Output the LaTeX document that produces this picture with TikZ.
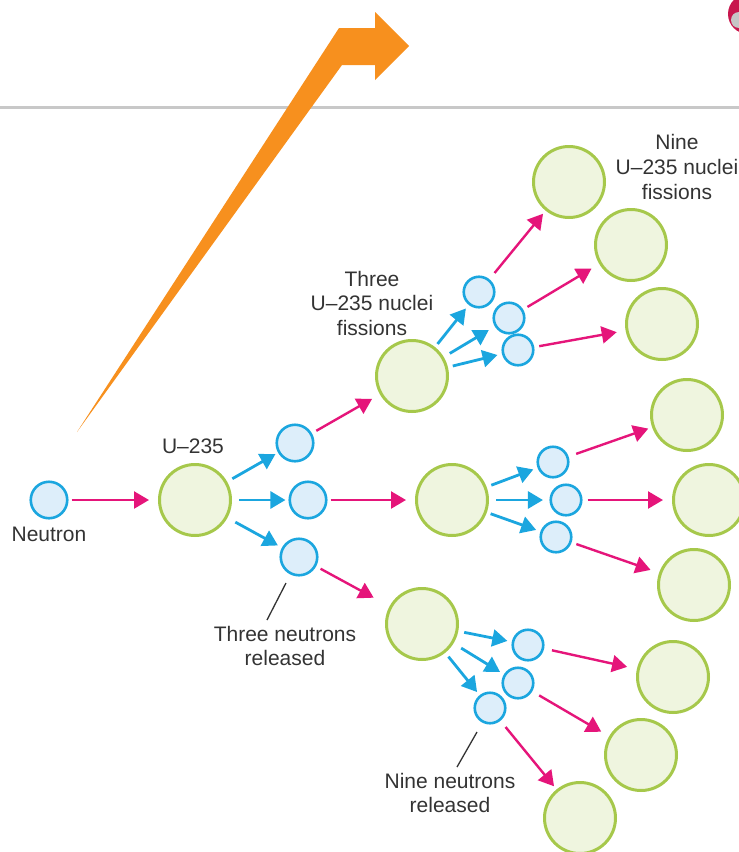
\documentclass[tikz,border=0pt]{standalone}
\usepackage{fontspec}
\setmainfont{Liberation Sans}
\usetikzlibrary{arrows.meta}
\definecolor{pinkc}{HTML}{E5157A}
\definecolor{bluec}{HTML}{1BA6DF}
\definecolor{neuf}{HTML}{DDEEFA}
\definecolor{nucf}{HTML}{EFF5DF}
\definecolor{nucg}{HTML}{A6C84B}
\definecolor{orangec}{HTML}{F7901E}
\definecolor{txtc}{HTML}{333333}
\definecolor{rulec}{HTML}{C8C8C8}
\definecolor{crimc}{HTML}{C8174D}
\tikzset{
  nucleus/.style={circle, draw=nucg, fill=nucf, line width=3pt, minimum size=71pt, inner sep=0pt},
  bigneut/.style={circle, draw=bluec, fill=neuf, line width=2.6pt, minimum size=36.5pt, inner sep=0pt},
  smallneut/.style={circle, draw=bluec, fill=neuf, line width=2.6pt, minimum size=30.5pt, inner sep=0pt},
  parr/.style={draw=pinkc, line width=2.4pt, -{Triangle[length=15pt,width=17pt]}, shorten <=5pt, shorten >=9pt},
  barr/.style={draw=bluec, line width=2.8pt, -{Triangle[length=15pt,width=17pt]}, shorten <=6pt, shorten >=4.5pt},
  lbl/.style={font=\fontsize{21}{24.5}\selectfont, text=txtc, align=center, inner sep=0pt, anchor=base},
  ptr/.style={draw=txtc, line width=1.3pt},
}
\begin{document}
\begin{tikzpicture}[x=1pt,y=-1pt]
\useasboundingbox (0,0) rectangle (739,852);
% top-right clipped fragment
\begin{scope}
\clip (0,0) rectangle (739,852);
\fill[crimc] (748,14) circle (20pt);
\fill[gray!45] (739,20) circle (8pt);
\end{scope}
% rule
\draw[rulec, line width=3pt] (0,107) -- (739,107);
% orange bent arrow
\fill[orangec] (77,432) -- (339,28) -- (375,28) -- (375,12) -- (409,46) -- (375,80) -- (375,65) -- (342,65) -- cycle;

% nodes
\node[bigneut] (n0) at (49,500) {};
\node[nucleus] (u0) at (195,500) {};
\node[bigneut] (t1) at (295,443) {};
\node[bigneut] (t2) at (308,500) {};
\node[bigneut] (t3) at (299,557) {};
\node[nucleus] (g1) at (412,376) {};
\node[nucleus] (g2) at (452,500) {};
\node[nucleus] (g3) at (422,624) {};
\node[smallneut] (a1) at (479,292) {};
\node[smallneut] (a2) at (509,318) {};
\node[smallneut] (a3) at (518,350) {};
\node[smallneut] (b1) at (553,462) {};
\node[smallneut] (b2) at (566,500) {};
\node[smallneut] (b3) at (556,537) {};
\node[smallneut] (c1) at (528,645) {};
\node[smallneut] (c2) at (518,683) {};
\node[smallneut] (c3) at (490,708) {};
\node[nucleus] (N1) at (569,182) {};
\node[nucleus] (N2) at (631,245) {};
\node[nucleus] (N3) at (662,324) {};
\node[nucleus] (N4) at (687,415) {};
\node[nucleus] (N5) at (709,500) {};
\node[nucleus] (N6) at (694,585) {};
\node[nucleus] (N7) at (673,677) {};
\node[nucleus] (N8) at (641,755) {};
\node[nucleus] (N9) at (580,818) {};

% pink arrows
\draw[parr, shorten <=3pt] (n0) -- (u0);
\draw[parr] (t1) -- (g1);
\draw[parr, shorten <=3pt] (t2) -- (g2);
\draw[parr, shorten >=18pt] (t3) -- (g3);
\draw[parr, shorten <=8pt, shorten >=4pt] (a1) -- (N1);
\draw[parr] (a2) -- (N2);
\draw[parr] (a3) -- (N3);
\draw[parr, shorten <=8pt, shorten >=4pt] (b1) -- (N4);
\draw[parr] (b2) -- (N5);
\draw[parr] (b3) -- (N6);
\draw[parr, shorten <=8pt, shorten >=10pt] (c1) -- (N7);
\draw[parr, shorten <=8pt] (c2) -- (N8);
\draw[parr, shorten <=8pt, shorten >=4pt] (c3) -- (N9);

% blue arrows
\draw[barr, shorten >=3pt] (u0) -- (t1);
\draw[barr, shorten <=7pt, shorten >=3pt] (u0) -- (t2);
\draw[barr, shorten <=9pt] (u0) -- (t3);
\draw[barr, shorten <=4pt] (g1) -- (a1);
\draw[barr, shorten <=7pt, shorten >=7pt] (g1) -- (a2);
\draw[barr, shorten <=5pt] (g1) -- (a3);
\draw[barr, shorten <=5pt] (g2) -- (b1);
\draw[barr, shorten <=7pt, shorten >=6.5pt] (g2) -- (b2);
\draw[barr, shorten <=4pt] (g2) -- (b3);
\draw[barr] (g3) -- (c1);
\draw[barr, shorten <=9pt] (g3) -- (c2);
\draw[barr, shorten <=5pt, shorten >=4pt] (g3) -- (c3);

% labels (base anchor = baseline of the last line)
\node[lbl] (lneu) at (49,541) {Neutron};
\node[lbl] (lu) at (193,453) {U–235};
\node[lbl] (lthree) at (372,335) {Three\\U–235 nuclei\\fissions};
\node[lbl, font=\fontsize{21}{25}\selectfont] (lnine) at (677,199) {Nine\\U–235 nuclei\\fissions};
\node[lbl, font=\fontsize{21}{24}\selectfont] (ltr) at (285,665) {Three neutrons\\released};
\node[lbl, font=\fontsize{21}{24}\selectfont] (lnr) at (450,812) {Nine neutrons\\released};

% pointer lines
\coordinate (p1a) at (286,583);
\coordinate (p1b) at (267,620);
\coordinate (p2a) at (477,732);
\coordinate (p2b) at (457,767);
\draw[ptr] (p1a) -- (p1b);
\draw[ptr] (p2a) -- (p2b);
\end{tikzpicture}
\end{document}
